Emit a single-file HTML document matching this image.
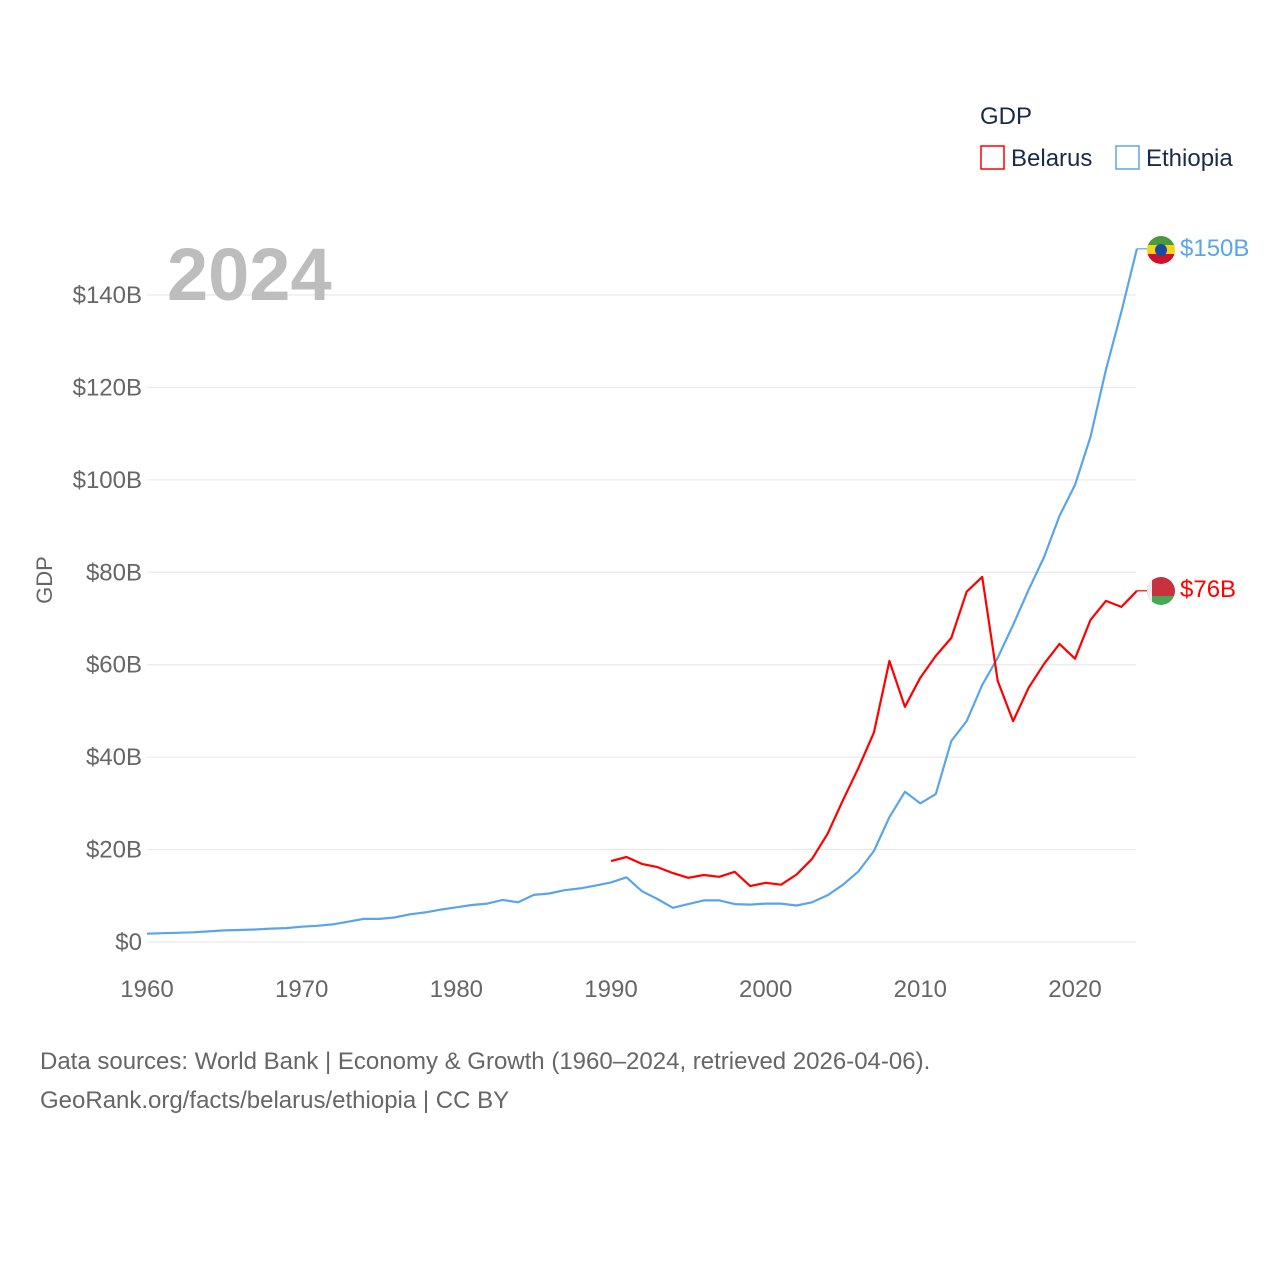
<!DOCTYPE html>
<html><head><meta charset="utf-8"><style>
body{margin:0;background:#fff;font-family:"Liberation Sans",sans-serif}
svg text{font-family:"Liberation Sans",sans-serif}
</style></head><body>
<svg id="chart" width="1280" height="1280" viewBox="0 0 1280 1280">
<rect width="1280" height="1280" fill="#fff"/>
<g id="grid"></g><g id="yticks"></g><g id="xticks"></g><g id="lines"></g>
<text x="167" y="300" font-size="74" font-weight="bold" fill="#bdbdbd">2024</text>
<text x="52" y="580" font-size="22" fill="#666" transform="rotate(-90 52 580)" text-anchor="middle">GDP</text>
<text x="980" y="124" font-size="24" fill="#1a2b4a">GDP</text>
<g><rect x="981" y="146" width="23" height="23" fill="none" stroke="#f00" stroke-width="1.5"/><text x="1011" y="166" font-size="24" fill="#1a2b4a">Belarus</text></g>
<g><rect x="1116" y="146" width="23" height="23" fill="none" stroke="#5aa5ea" stroke-width="1.5"/><text x="1146" y="166" font-size="24" fill="#1a2b4a">Ethiopia</text></g>
<g><clipPath id="c1"><circle cx="1161" cy="250" r="14"/></clipPath><g clip-path="url(#c1)"><rect x="1147" y="236" width="28" height="10" fill="#4a9a3a"/><rect x="1147" y="245" width="28" height="10" fill="#f4d516"/><rect x="1147" y="254" width="28" height="10" fill="#d0102a"/><circle cx="1161" cy="250" r="6" fill="#1a4aa8"/></g></g>
<g><clipPath id="c2"><circle cx="1161" cy="591" r="14"/></clipPath><g clip-path="url(#c2)"><rect x="1147" y="577" width="28" height="19" fill="#c8313e"/><rect x="1147" y="596" width="28" height="10" fill="#4aa657"/><rect x="1147" y="577" width="5" height="29" fill="#eee"/></g></g>
<text x="1180" y="256" font-size="24" fill="#5aa5ea">$150B</text>
<text x="1180" y="597" font-size="24" fill="#f00">$76B</text>
<text x="40" y="1069" font-size="24" fill="#666">Data sources: World Bank | Economy &amp; Growth (1960–2024, retrieved 2026-04-06).</text>
<text x="40" y="1108" font-size="24" fill="#666">GeoRank.org/facts/belarus/ethiopia | CC BY</text>
</svg>
<script>
const ethiopiaYears=[1960,1961,1962,1963,1964,1965,1966,1967,1968,1969,1970,1971,1972,1973,1974,1975,1976,1977,1978,1979,1980,1981,1982,1983,1984,1985,1986,1987,1988,1989,1990,1991,1992,1993,1994,1995,1996,1997,1998,1999,2000,2001,2002,2003,2004,2005,2006,2007,2008,2009,2010,2011,2012,2013,2014,2015,2016,2017,2018,2019,2020,2021,2022,2023,2024];
const ethiopiaGdp=[1.8,1.9,2.0,2.1,2.3,2.5,2.6,2.7,2.9,3.0,3.3,3.5,3.8,4.4,5.0,5.0,5.3,6.0,6.4,7.0,7.5,8.0,8.3,9.1,8.6,10.2,10.5,11.2,11.6,12.2,12.9,14.0,11.0,9.3,7.4,8.2,9.0,9.0,8.2,8.1,8.3,8.3,7.9,8.6,10.1,12.4,15.3,19.7,27.0,32.5,30.0,32.0,43.5,47.8,55.6,61.5,68.6,76.2,83.3,92.2,98.9,109.3,123.8,136.4,150];
const belarusYears=[1990,1991,1992,1993,1994,1995,1996,1997,1998,1999,2000,2001,2002,2003,2004,2005,2006,2007,2008,2009,2010,2011,2012,2013,2014,2015,2016,2017,2018,2019,2020,2021,2022,2023,2024];
const belarusGdp=[17.5,18.4,16.9,16.2,14.9,13.9,14.5,14.1,15.2,12.1,12.8,12.4,14.6,18.0,23.4,30.7,37.7,45.3,60.8,50.9,57.2,61.9,65.8,75.8,79.0,56.5,47.8,55.0,60.2,64.5,61.3,69.7,73.8,72.5,76.0];
const yTicks=[0,20,40,60,80,100,120,140];
const yTickLabels=["$0","$20B","$40B","$60B","$80B","$100B","$120B","$140B"];
const xTicks=[1960,1970,1980,1990,2000,2010,2020];
const NS="http://www.w3.org/2000/svg";
const X=y=>147+(y-1960)*(1075-147)/60;
const Y=v=>942-v*(942-295)/140;
function mk(t,a,p){const e=document.createElementNS(NS,t);for(const k in a)e.setAttribute(k,a[k]);document.getElementById(p).appendChild(e);return e;}
yTicks.forEach((v,i)=>{
 const l=mk('line',{x1:147,x2:1136,y1:Y(v),y2:Y(v),stroke:'#e6e6e6','stroke-width':1},'grid');
 
 
 const t=mk('text',{x:142,y:Y(v)+8,'font-size':24,fill:'#666','text-anchor':'end'},'yticks');
 t.textContent=yTickLabels[i];
 
 
});
xTicks.forEach(v=>{
 const t=mk('text',{x:X(v),y:997,'font-size':24,fill:'#666','text-anchor':'middle'},'xticks');
 t.textContent=v;
 
 
});
function line(xs,vs,c,name){
 const d=xs.map((y,i)=>(i?'L':'M')+X(y).toFixed(1)+','+Y(vs[i]).toFixed(1)).join('');
 const p=mk('path',{d:d,fill:'none',stroke:c,'stroke-width':2.2,'stroke-linejoin':'round'},'lines');
 
 
 const last=vs[vs.length-1];
 mk('line',{x1:X(xs[xs.length-1]),x2:1147,y1:Y(last),y2:Y(last),stroke:c,'stroke-width':1.2},'lines');
}
line(ethiopiaYears,ethiopiaGdp,'#5aa5ea','ethiopia-line');
line(belarusYears,belarusGdp,'#ff0000','belarus-line');
</script>
</body></html>
